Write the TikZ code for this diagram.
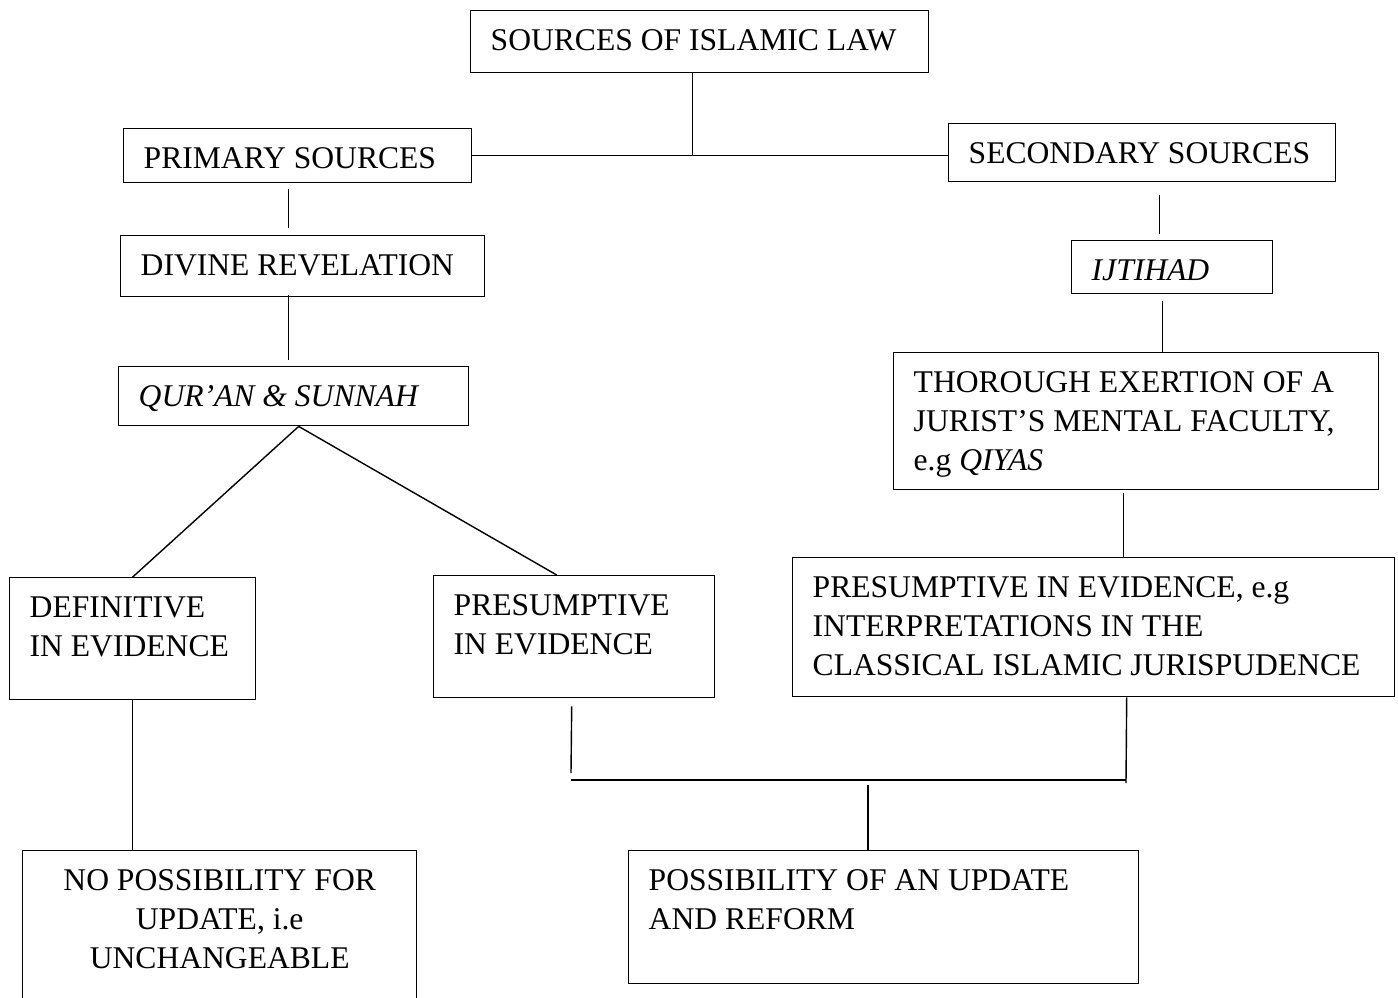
\documentclass[tikz,border=0pt]{standalone}
\usepackage{fontspec}
\setmainfont{Liberation Serif}
\begin{document}
\begin{tikzpicture}[x=0.5pt, y=-0.5pt]
    % Styles
    \tikzstyle{box} = [rectangle, draw=black, line width=0.7pt, anchor=north west, align=flush left, inner xsep=10pt, inner ysep=0pt, text height=20pt, font=\fontsize{15.8}{19.5}\selectfont]
    \tikzstyle{line} = [line width=0.7pt]

    \useasboundingbox (0,0) rectangle (1398,997);

    % Boxes
    \node (sources) [box, text width=209pt, text depth=11pt] at (470,10) {SOURCES OF ISLAMIC LAW};
    \node (primary) [box, text width=154pt, text depth=7pt] at (123,128) {PRIMARY SOURCES};
    \node (secondary) [box, text width=173.5pt, text depth=9pt] at (948,123) {SECONDARY SOURCES};
    \node (divine) [box, text width=162pt, text depth=10.5pt] at (120,235) {DIVINE REVELATION};
    \node (quran) [box, text width=155pt, text depth=9.5pt] at (118,366) {\itshape QUR’AN \& SUNNAH};
    \node (definitive) [box, text width=103pt, text depth=41pt] at (9,577) {DEFINITIVE\\IN EVIDENCE};
    \node (presuma) [box, text width=120.5pt, text depth=41pt] at (433,575) {PRESUMPTIVE\\IN EVIDENCE};
    \node (nochange) [box, align=flush center, text width=177pt, text depth=65pt] at (22,850) {NO POSSIBILITY FOR\\UPDATE, i.e\\UNCHANGEABLE};
    \node (ijtihad) [box, text width=80.5pt, text depth=6.5pt] at (1071,240) {\itshape IJTIHAD};
    \node (exertion) [box, text width=222.5pt, text depth=48.5pt] at (893,352) {THOROUGH EXERTION OF A\\JURIST’S MENTAL FACULTY,\\e.g \textit{QIYAS}};
    \node (presumb) [box, text width=281pt, text depth=49.5pt] at (792,557) {PRESUMPTIVE IN EVIDENCE, e.g\\INTERPRETATIONS IN THE\\CLASSICAL ISLAMIC JURISPUDENCE};
    \node (update) [box, text width=235pt, text depth=46.5pt] at (628,850) {POSSIBILITY OF AN UPDATE\\AND REFORM};

    % Lines
    \coordinate (joinL) at (571,780);
    \coordinate (joinR) at (1126,780);
    \coordinate (join) at (868,780);

    \draw [line] ([xshift=-3.5pt]sources.south) -- ([xshift=-3.5pt]sources.south |- primary.east);
    \draw [line] (primary.east) -- (primary.east -| secondary.west);
    \draw [line] ([xshift=-4.5pt,yshift=-3pt]primary.south) -- ([xshift=-7pt,yshift=3.5pt]divine.north);
    \draw [line] ([xshift=-7pt,yshift=1pt]divine.south) -- ([xshift=-2.5pt,yshift=3pt]quran.north);
    \draw [line] ([xshift=2.5pt]quran.south) -- (definitive.north);
    \draw [line] ([xshift=2.5pt]quran.south) -- ([xshift=-8.75pt]presuma.north);
    \draw [line] (definitive.south) -- (definitive.south |- nochange.north);
    \draw [line] ([xshift=8.75pt,yshift=-6.5pt]secondary.south) -- ([xshift=-6.25pt,yshift=3pt]ijtihad.north);
    \draw [line] ([xshift=-4.75pt,yshift=-3.5pt]ijtihad.south) -- ([xshift=-4.75pt]ijtihad.south |- exertion.north);
    \draw [line] ([xshift=-6.25pt,yshift=-1.5pt]exertion.south) -- ([xshift=-6.25pt]exertion.south |- presumb.north);
    \draw [line] ([xshift=-1.25pt,yshift=-4pt]presuma.south) -- ([yshift=3.5pt]joinL);
    \draw [line] ([xshift=16.5pt]presumb.south) -- ([yshift=-1.5pt]joinR);
    \draw [line] (joinL) -- (joinR);
    \draw [line] ([yshift=-2.5pt]join) -- (join |- update.north);
\end{tikzpicture}
\end{document}
